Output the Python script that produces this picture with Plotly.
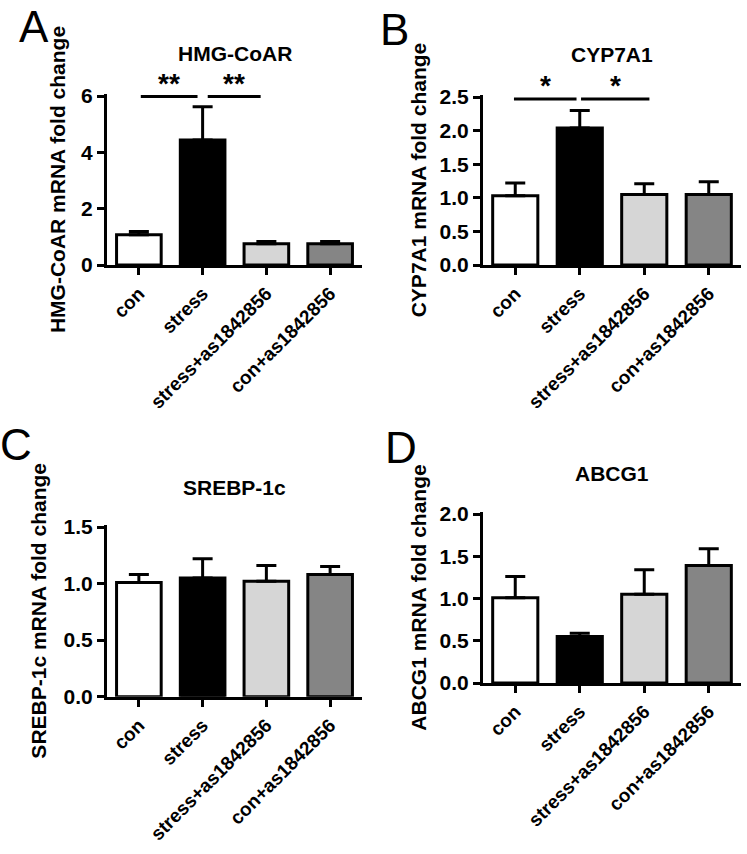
import plotly.graph_objects as go

categories = ["con", "stress", "stress+as1842856", "con+as1842856"]
bar_colors = ["#ffffff", "#000000", "#d6d6d6", "#858585"]

hmg_mean = [1.07, 4.44, 0.75, 0.75]
hmg_err = [0.12, 1.18, 0.08, 0.08]

cyp_mean = [1.03, 2.04, 1.05, 1.05]
cyp_err = [0.19, 0.26, 0.16, 0.19]

srebp_mean = [1.01, 1.05, 1.02, 1.08]
srebp_err = [0.07, 0.17, 0.14, 0.07]

abcg_mean = [1.01, 0.55, 1.05, 1.39]
abcg_err = [0.25, 0.04, 0.29, 0.20]

panels = [
    dict(letter="A", title="HMG-CoAR", ytitle="HMG-CoAR mRNA fold change",
         mean=hmg_mean, err=hmg_err, tickvals=[0, 2, 4, 6], fmt="d", top=6,
         sig=[([0.03, 0.92], 5.98, "**"), ([1.08, 1.91], 5.98, "**")]),
    dict(letter="B", title="CYP7A1", ytitle="CYP7A1 mRNA fold change",
         mean=cyp_mean, err=cyp_err, tickvals=[0, 0.5, 1.0, 1.5, 2.0, 2.5], fmt=".1f", top=2.5,
         sig=[([-0.02, 0.95], 2.47, "*"), ([1.02, 2.08], 2.47, "*")]),
    dict(letter="C", title="SREBP-1c", ytitle="SREBP-1c mRNA fold change",
         mean=srebp_mean, err=srebp_err, tickvals=[0, 0.5, 1.0, 1.5], fmt=".1f", top=1.5, sig=[]),
    dict(letter="D", title="ABCG1", ytitle="ABCG1 mRNA fold change",
         mean=abcg_mean, err=abcg_err, tickvals=[0, 0.5, 1.0, 1.5, 2.0], fmt=".1f", top=2.0, sig=[]),
]

W, H = 747, 854
# pixel layout of each panel: (x_left, x_right, y_top_tick, y_zero)
geom = [(107, 362, 96, 265), (483, 741, 97, 265), (107, 362, 527, 696.7), (483, 741, 514, 683)]
letter_pos = [(34, 0), (394, 3), (16, 418), (401, 421)]
title_shift = [40, 40, 37, 38]
ytitle_standoff = [10, 8, 12, 8]

FONT = "Arial, Liberation Sans, Helvetica, sans-serif"
fig = go.Figure()
layout = dict(width=W, height=H, margin=dict(l=0, r=0, t=0, b=0, autoexpand=False),
              plot_bgcolor="white", paper_bgcolor="white", showlegend=False,
              font=dict(family=FONT, color="black"), annotations=[], bargap=0.3)

for i, p in enumerate(panels):
    n = "" if i == 0 else str(i + 1)
    xl, xr, yt, y0 = geom[i]
    pad = p["top"] * 0.012
    px_per = (y0 - yt) / p["top"]
    ytop_px = yt - pad * px_per
    fig.add_trace(go.Bar(
        x=list(range(len(categories))), y=p["mean"], width=0.7,
        marker=dict(color=bar_colors, line=dict(color="black", width=3)),
        error_y=dict(type="data", symmetric=False, array=p["err"],
                     arrayminus=[0] * len(p["err"]), color="black", thickness=3, width=10),
        xaxis="x" + n, yaxis="y" + n, hoverinfo="skip"))
    for xs, yv, star in p["sig"]:
        fig.add_trace(go.Scatter(x=xs, y=[yv, yv], mode="lines",
                                 line=dict(color="black", width=3),
                                 xaxis="x" + n, yaxis="y" + n, hoverinfo="skip"))
        layout["annotations"].append(dict(
            x=sum(xs) / 2, y=yv, xref="x" + n, yref="y" + n, text=star,
            showarrow=False, yanchor="bottom", yshift=-4,
            font=dict(size=28, weight="bold", family=FONT)))
    layout["xaxis" + n] = dict(
        domain=[xl / W, xr / W], range=[-0.5, 3.5], anchor="y" + n, automargin=False,
        tickvals=list(range(len(categories))), ticktext=categories,
        tickangle=-45, showline=True, linewidth=3, linecolor="black",
        ticks="outside", ticklen=7, tickwidth=3, tickcolor="black",
        tickfont=dict(size=19, weight="bold", family=FONT), showgrid=False, zeroline=False)
    layout["yaxis" + n] = dict(
        domain=[1 - y0 / H, 1 - ytop_px / H], range=[0, p["top"] + pad], anchor="x" + n,
        automargin=False, tickvals=p["tickvals"], tickformat=p["fmt"],
        showline=True, linewidth=3, linecolor="black",
        ticks="outside", ticklen=7, tickwidth=3, tickcolor="black",
        tickfont=dict(size=21, weight="bold", family=FONT), showgrid=False, zeroline=False,
        title=dict(text=p["ytitle"], standoff=ytitle_standoff[i],
                   font=dict(size=21, weight="bold", family=FONT)))
    layout["annotations"].append(dict(
        x=0.5, y=1, xref="x" + n + " domain", yref="y" + n + " domain",
        text=p["title"], showarrow=False, yanchor="middle", yshift=title_shift[i],
        font=dict(size=21, weight="bold", family=FONT)))
    lx, ly = letter_pos[i]
    layout["annotations"].append(dict(
        x=lx / W, y=1 - ly / H, xref="paper", yref="paper", text=p["letter"],
        showarrow=False, xanchor="center", yanchor="top",
        font=dict(size=44, family=FONT)))

fig.update_layout(**layout)
fig.write_html("out.html", config={"displayModeBar": False},
               post_script="document.body.style.margin='0';document.body.style.overflow='hidden';")
